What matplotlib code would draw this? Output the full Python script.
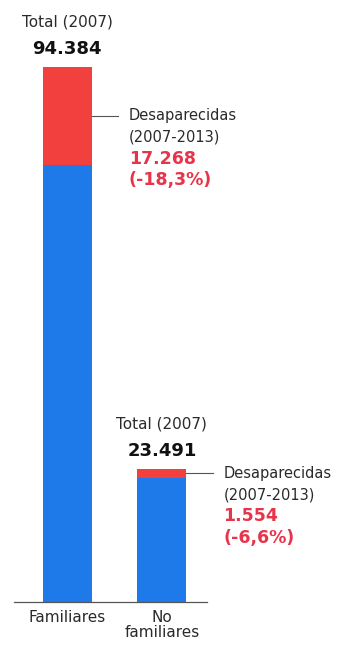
import matplotlib.pyplot as plt

plt.rcParams['font.family'] = ['DejaVu Sans']

# data
categorias = ['Familiares', 'No\nfamiliares']
total_2007 = [94384, 23491]
desaparecidas = [17268, 1554]
pct = ['(-18,3%)', '(-6,6%)']
total_txt = ['94.384', '23.491']
desap_txt = ['17.268', '1.554']

blue = '#1e7ae8'
red = '#f2403f'
red_txt = '#e8344a'
gris = '#2a2a2a'

restantes = [t - d for t, d in zip(total_2007, desaparecidas)]

fig = plt.figure(figsize=(3.38, 6.47), dpi=100)
ax = fig.add_axes([0.041, 0.0696, 0.571, 0.827])

x = [0, 1]
ax.bar(x, restantes, width=0.52, color=blue, edgecolor='none')
ax.bar(x, desaparecidas, width=0.52, bottom=restantes, color=red, edgecolor='none')

ax.set_xlim(-0.566, 1.476)
ax.set_ylim(0, total_2007[0])

for i in x:
    # total above the bar
    ax.annotate('Total (2007)', xy=(i, total_2007[i]), xytext=(0, 32),
                textcoords='offset points', ha='center', va='center',
                fontsize=11, color=gris, annotation_clip=False)
    ax.annotate(total_txt[i], xy=(i, total_2007[i]), xytext=(0, 13),
                textcoords='offset points', ha='center', va='center',
                fontsize=13, fontweight='bold', color='#111111',
                annotation_clip=False)

    # callout for the red segment
    ymid = restantes[i] + desaparecidas[i] / 2
    ax.plot([i + 0.26, i + 0.54], [ymid, ymid], color='#555555', lw=0.8,
            clip_on=False)
    lineas = [('Desaparecidas', gris, 'normal', 10.5),
              ('(2007-2013)', gris, 'normal', 10.5),
              (desap_txt[i], red_txt, 'bold', 12.5),
              (pct[i], red_txt, 'bold', 12.5)]
    for k, (txt, col, w, fs) in enumerate(lineas):
        ax.annotate(txt, xy=(i + 0.65, ymid), xytext=(0, -15.5 * k),
                    textcoords='offset points', ha='left', va='center',
                    fontsize=fs, fontweight=w, color=col,
                    annotation_clip=False)

ax.set_xticks(x)
ax.set_xticklabels(categorias, fontsize=11, color=gris, linespacing=0.95)
ax.tick_params(axis='x', length=0, pad=6)
ax.set_yticks([])
for s in ['top', 'right', 'left']:
    ax.spines[s].set_visible(False)
ax.spines['bottom'].set_color('#555555')
ax.spines['bottom'].set_linewidth(0.9)

fig.savefig('out.png', dpi=100)
